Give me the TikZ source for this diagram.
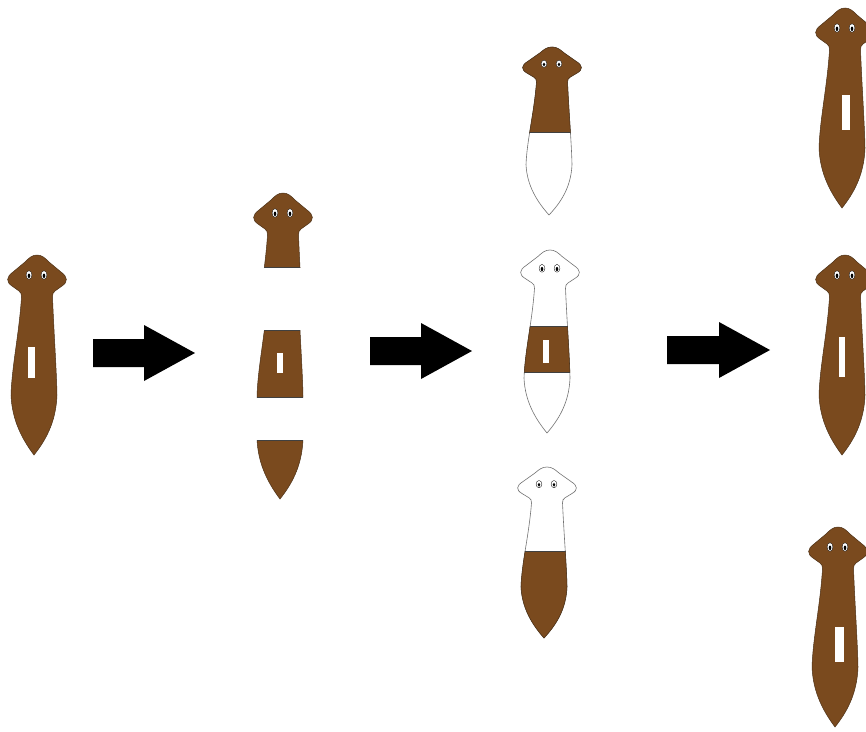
\documentclass[tikz,border=0pt]{standalone}
\usepackage{tikz}
\definecolor{wormbrown}{RGB}{122,74,30}
\definecolor{wormedge}{RGB}{75,48,22}
\definecolor{regenedge}{RGB}{115,115,115}
\tikzset{
    body/.style={
        fill=wormbrown,
        draw=wormedge,
        line width=0.5pt
    },
    regen/.style={
        fill=white,
        draw=regenedge,
        line width=0.6pt
    },
    cutline/.style={
        draw=black!75,
        line width=0.8pt
    },
    eyespot/.style={
        fill=white,
        draw=black,
        line width=0.3pt
    },
    bigarrow/.style={
        fill=black
    }
}

% one planarian, head tip at the origin, tail tip near (-3,200)
\newcommand{\wormoutline}{(0,0) .. controls (5,0) and (8,3) .. (12,7) -- (24,17)
    .. controls (31,22) and (31,27) .. (25,31) -- (18,36)
    .. controls (16,37.5) and (15.5,39) .. (15.5,42)
    .. controls (17,80) and (19.5,115) .. (20,140)
    .. controls (19,168) and (8,186) .. (-3,200)
    .. controls (-15,184) and (-25,165) .. (-26,140)
    .. controls (-25,110) and (-18,80) .. (-15.5,42)
    .. controls (-15.5,39) and (-16,37.5) .. (-18,36) -- (-25,31)
    .. controls (-31,27) and (-31,22) .. (-24,17) -- (-12,7)
    .. controls (-8,3) and (-5,0) .. (0,0) -- cycle}

% eye spots
\newcommand{\wormeyes}{\foreach \ex in {-8,7} {
    \filldraw[eyespot] (\ex,20) ellipse (2.9 and 4.3);
    \fill[black] (\ex,20.8) ellipse (1.3 and 2.3);}}

% pharynx: corner, width, height
\newcommand{\pharynx}[4]{\fill[white] (#1,#2) rectangle ++(#3,#4);}

% brown tissue between two depths, with the cut edges
\newcommand{\wormband}[2]{%
    \begin{scope}
        \clip (-40,#1) rectangle (40,#2);
        \path[body] \wormoutline;
    \end{scope}
    \begin{scope}
        \clip \wormoutline;
        \draw[cutline] (-40,#1) -- (40,#1) (-40,#2) -- (40,#2);
    \end{scope}}

% block arrow: left end, tip, height of axis
\newcommand{\bigarrow}[3]{\fill[bigarrow] (#1,#3-14) -- ({#2-51},#3-14) -- ({#2-51},#3-28)
    -- (#2,#3) -- ({#2-51},#3+28) -- ({#2-51},#3+14) -- (#1,#3+14) -- cycle;}

\begin{document}
\begin{tikzpicture}[x=1pt, y=-1pt]
\useasboundingbox (0,0) rectangle (866,731);
\clip (0,0) rectangle (866,731);

% Intact worm
\begin{scope}[shift={(37,255)}]
    \path[body] \wormoutline;
    \wormeyes
    \pharynx{-9}{92}{7}{31}
\end{scope}

% Cut into three pieces
\begin{scope}[shift={(283,193)}]
    \wormband{-5}{74}
    \wormeyes
\end{scope}
\begin{scope}[shift={(283,256)}]
    \wormband{74}{141}
    \pharynx{-6}{97}{6}{20}
\end{scope}
\begin{scope}[shift={(283,299)}]
    \wormband{141}{205}
\end{scope}

% Regenerating fragments
\begin{scope}[shift={(552,47)}, yscale=0.84]
    \path[regen] \wormoutline;
    \wormband{-5}{102}
    \wormeyes
\end{scope}
\begin{scope}[shift={(550,250)}, yscale=0.915]
    \path[regen] \wormoutline;
    \wormband{84}{134}
    \wormeyes
    \pharynx{-7}{98}{6}{25}
\end{scope}
\begin{scope}[shift={(547,467)}, yscale=0.855]
    \path[regen] \wormoutline;
    \wormband{99}{205}
    \wormeyes
\end{scope}

% Three new worms
\begin{scope}[shift={(845,8)}]
    \path[body] \wormoutline;
    \wormeyes
    \pharynx{-3}{87}{8}{35}
\end{scope}
\begin{scope}[shift={(845,255)}]
    \path[body] \wormoutline;
    \wormeyes
    \pharynx{-6}{82}{6}{40}
\end{scope}
\begin{scope}[shift={(838,527)}]
    \path[body] \wormoutline;
    \wormeyes
    \pharynx{-3}{100}{9}{35}
\end{scope}

% Arrows
\bigarrow{93}{195}{353}
\bigarrow{370}{472}{351}
\bigarrow{667}{770}{350}

\end{tikzpicture}
\end{document}
